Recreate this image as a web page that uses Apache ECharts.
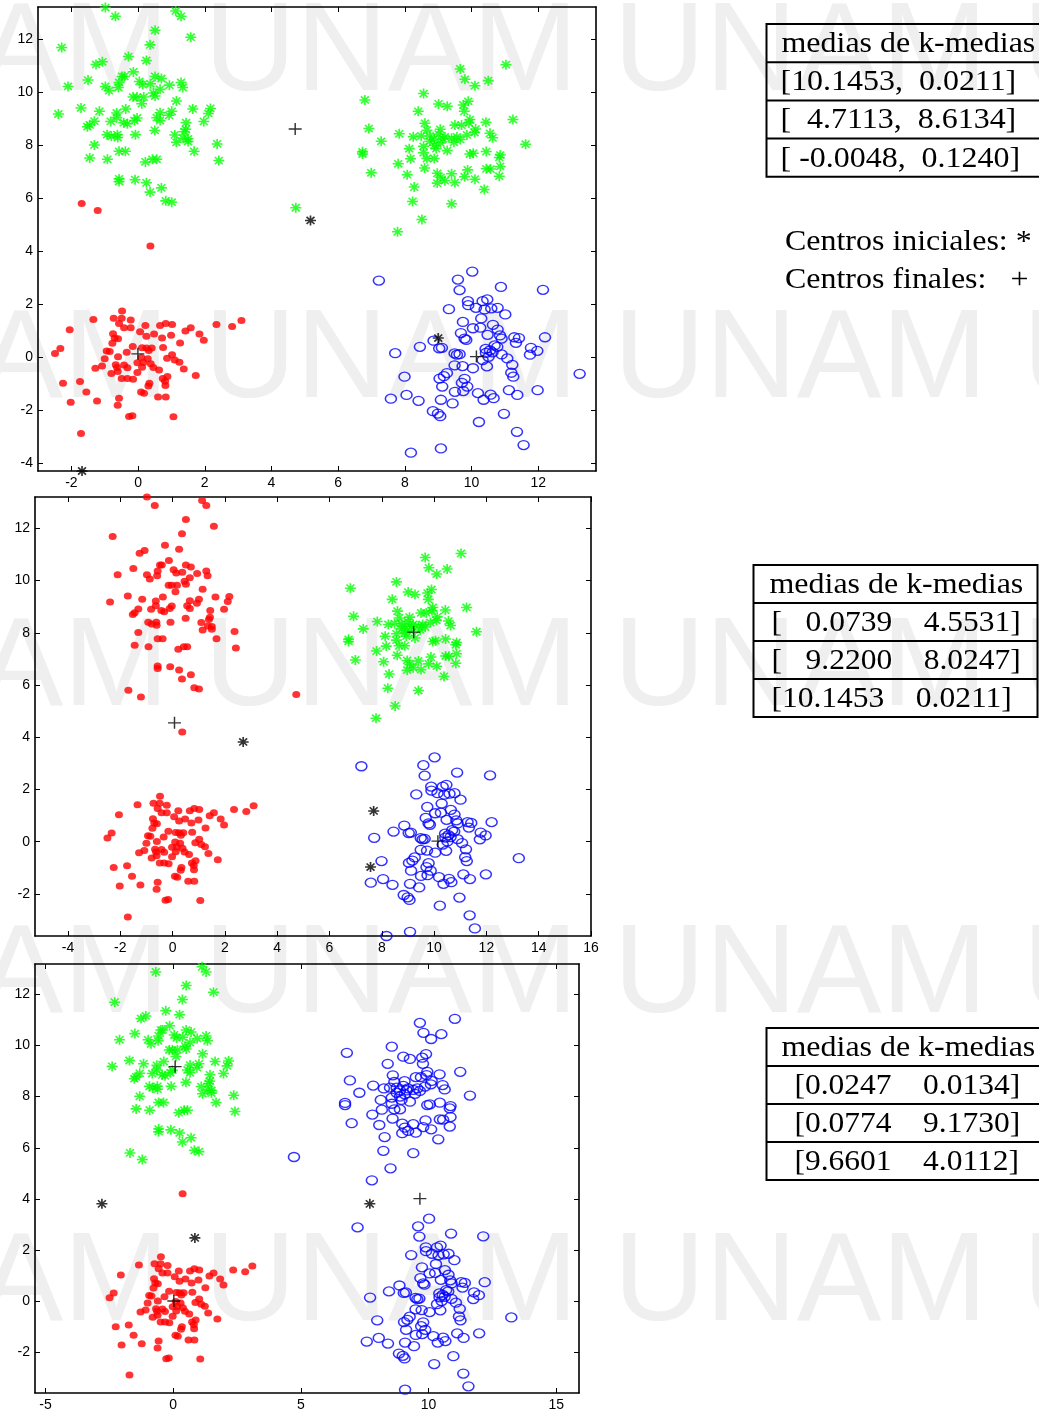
<!DOCTYPE html>
<html>
<head>
<meta charset="utf-8">
<script src="https://cdn.jsdelivr.net/npm/echarts@6/dist/echarts.min.js"></script>
<style>
  html, body { margin: 0; padding: 0; background: #ffffff; }
  #chart { width: 1039px; height: 1416px; }
</style>
</head>
<body>
<div id="chart"></div>
<script>
// ---- sample points (x, y), grouped by where they sit in the plane ----
// upper-left blob around (0, 9)
const upperLeft = [
  [-0.98,13.2],[-0.68,12.87],[1.13,13.07],[1.29,12.87],[0.51,12.34],[1.58,12.08],[-2.29,11.69],[0.36,11.79],
  [-0.29,11.35],[0.25,11.2],[-1.26,11.05],[-1.07,11.15],[-0.14,10.77],[-0.48,10.6],[-0.41,10.6],[0.51,10.6],
  [0.70,10.52],[-1.50,10.46],[0.04,10.41],[0.14,10.29],[0.37,10.32],[1.29,10.37],[0.94,10.27],[-0.57,10.37],
  [-2.10,10.22],[-0.98,10.22],[-0.87,10.06],[-0.59,10.18],[1.34,10.18],[0.66,10.11],[0.46,9.97],[0.51,9.86],
  [-0.15,9.82],[-0.03,9.82],[0.17,9.82],[1.15,9.67],[0.11,9.57],[-1.71,9.41],[-1.16,9.28],[-2.39,9.18],
  [-0.64,9.22],[-0.37,9.37],[0.66,9.23],[1.01,9.28],[0.93,9.13],[1.64,9.37],[2.17,9.39],[2.11,9.20],
  [0.56,9.04],[0.66,8.93],[-0.03,9.03],[-0.11,8.93],[-0.64,9.04],[-0.43,8.85],[-0.32,8.81],[-0.82,8.90],
  [-1.31,8.91],[-1.45,8.77],[-1.52,8.70],[1.44,8.85],[1.97,8.90],[1.43,8.60],[1.39,8.51],[0.50,8.56],
  [-0.93,8.40],[-0.80,8.34],[-0.62,8.40],[-0.61,8.29],[-0.08,8.40],[1.10,8.39],[1.15,8.11],[1.35,8.26],
  [1.50,8.24],[1.50,8.14],[2.37,8.05],[-1.31,8.01],[-0.57,7.77],[-0.38,7.77],[1.68,7.77],[-1.45,7.52],
  [-0.92,7.47],[0.43,7.47],[0.56,7.47],[0.22,7.37],[2.42,7.42],[-0.57,6.73],[-0.57,6.63],[-0.09,6.70],
  [0.25,6.58],[0.70,6.39],[0.36,6.23],[0.83,5.90],[1.01,5.85]
];
// two low points of the upper-left blob
const upperLeftLow = [[-1.69,5.80],[-1.21,5.54]];

// upper-right blob around (9, 8)
const upperRight = [
  [11.03,11.04],[9.66,10.88],[9.80,10.49],[10.50,10.44],[10.10,10.25],[6.80,9.71],[8.56,9.95],[9.01,9.56],
  [9.27,9.47],[9.75,9.52],[9.90,9.66],[8.40,9.28],[9.78,9.28],[9.95,8.97],[9.92,8.84],[10.43,8.87],
  [11.24,8.97],[6.92,8.63],[7.83,8.43],[7.29,8.15],[8.25,8.32],[8.60,8.83],[8.66,8.57],[8.49,8.35],
  [8.75,8.35],[9.06,8.60],[8.88,8.24],[9.14,8.24],[9.40,8.26],[9.50,8.76],[9.56,8.32],[9.86,8.39],
  [10.09,8.48],[10.55,8.45],[10.63,8.28],[11.62,8.04],[6.73,7.75],[6.73,7.67],[8.13,7.87],[8.56,7.96],
  [8.88,8.00],[9.07,8.09],[9.27,7.80],[8.56,7.72],[8.88,7.50],[8.17,7.49],[7.80,7.30],[6.99,6.96],
  [8.07,6.89],[8.59,7.14],[8.97,6.94],[9.07,6.79],[8.97,6.57],[9.20,6.66],[9.50,6.59],[9.40,6.92],
  [9.88,7.07],[9.79,6.81],[10.10,6.72],[9.95,7.67],[10.05,7.70],[10.44,7.76],[10.86,7.63],[10.83,7.54],
  [10.86,7.20],[10.44,7.11],[10.57,7.10],[10.83,6.83],[10.38,6.33],[8.28,6.42],[8.23,5.88],[9.40,5.79],
  [8.51,5.20],[7.78,4.73],[9.70,8.76],[10.12,8.61],[8.75,8.15],[9.01,8.42],[9.20,8.32],[9.47,8.11],
  [9.66,8.22],[8.94,7.87],[8.66,7.50]
];

// lower-left blob around (0, 0)
const lowerLeft = [
  [-0.48,1.74],[-1.34,1.42],[-0.73,1.47],[-0.49,1.47],[-0.22,1.40],[-2.05,1.03],[-0.57,1.27],[-0.42,1.11],
  [-0.22,1.11],[0.22,1.19],[0.66,1.19],[0.83,1.27],[1.02,1.23],[0.06,0.96],[0.25,0.79],[0.48,0.87],
  [0.72,0.72],[0.99,0.83],[1.42,0.99],[1.58,1.11],[1.84,0.87],[1.97,0.64],[2.35,1.23],[2.82,1.16],
  [3.10,1.38],[-0.75,0.88],[-0.70,0.72],[-0.60,0.69],[-0.77,0.52],[-0.16,0.40],[-2.33,0.33],[-2.49,0.14],
  [-0.94,0.23],[-0.85,0.21],[-0.34,0.18],[0.12,0.35],[0.25,0.34],[0.41,0.34],[0.32,0.25],[0.75,0.36],
  [1.26,0.53],[-1.00,-0.06],[-0.60,0.01],[0.10,-0.01],[0.29,-0.06],[0.16,-0.20],[-0.02,-0.21],[1.02,0.09],
  [0.87,-0.04],[1.10,-0.11],[1.24,-0.19],[-1.08,-0.34],[-1.28,-0.42],[-0.67,-0.29],[-0.63,-0.39],[-0.42,-0.30],
  [-0.32,-0.40],[0.12,-0.38],[0.38,-0.25],[0.46,-0.39],[0.63,-0.49],[1.37,-0.45],[-0.80,-0.62],[-0.61,-0.54],
  [-0.02,-0.58],[-0.49,-0.81],[-0.32,-0.81],[-0.15,-0.84],[0.74,-0.81],[0.88,-0.73],[0.81,-0.91],[1.73,-0.69],
  [-2.25,-0.99],[-1.74,-0.92],[0.34,-0.99],[0.31,-1.09],[0.82,-1.07],[-1.55,-1.32],[0.09,-1.32],[0.18,-1.36],
  [-2.02,-1.70],[-1.23,-1.66],[-0.57,-1.55],[-0.61,-1.82],[0.60,-1.51],[0.83,-1.51],[-0.27,-2.24],[-0.17,-2.21],
  [1.06,-2.25],[-1.71,-2.88]
];

// lower-right blob around (10, 0)
const lowerRight = [
  [7.22,2.89],[10.02,3.23],[9.59,2.93],[9.64,2.53],[10.88,2.65],[12.14,2.54],[9.89,2.11],[9.90,1.96],
  [10.33,2.11],[10.47,2.18],[10.13,1.86],[10.39,1.80],[10.59,1.84],[10.78,1.86],[11.01,1.61],[9.32,1.81],
  [10.29,1.46],[9.74,1.33],[10.04,1.09],[10.26,1.11],[10.64,1.22],[10.78,1.04],[9.68,0.91],[9.79,0.70],
  [9.84,0.65],[10.48,0.84],[10.85,0.82],[10.90,0.70],[11.28,0.75],[11.42,0.72],[11.33,0.54],[12.20,0.75],
  [8.86,0.62],[8.45,0.39],[9.11,0.35],[9.03,0.33],[7.71,0.15],[9.49,0.14],[9.56,0.09],[9.64,0.11],
  [10.42,0.31],[10.55,0.25],[10.43,0.16],[10.63,0.18],[10.77,0.39],[10.69,0.44],[10.51,0.01],[10.90,0.10],
  [11.07,-0.05],[11.78,0.35],[11.75,0.09],[11.97,0.24],[10.33,-0.11],[10.46,-0.35],[10.04,-0.42],[9.49,-0.31],
  [9.73,-0.34],[11.22,-0.29],[11.19,-0.59],[11.25,-0.74],[13.24,-0.63],[7.99,-0.74],[9.26,-0.60],[9.17,-0.72],
  [9.04,-0.81],[9.79,-0.82],[9.71,-0.97],[9.12,-1.11],[9.87,-1.11],[9.75,-1.28],[9.50,-1.31],[7.58,-1.57],
  [8.05,-1.43],[8.41,-1.65],[9.08,-1.61],[9.43,-1.75],[10.19,-1.36],[10.36,-1.61],[10.57,-1.42],[10.66,-1.55],
  [11.12,-1.25],[11.37,-1.43],[11.98,-1.25],[8.84,-2.04],[8.99,-2.13],[9.06,-2.23],[10.97,-2.14],[10.22,-2.45],
  [11.36,-2.82],[11.56,-3.32],[8.18,-3.61],[9.08,-3.45]
];

// two isolated points between the blobs
const strayA = [[4.73,5.64]];
const strayB = [[0.37,4.20]];

// ---- starting centres and resulting means of each run ----
const initialRun1 = [[5.17,5.16],[9.00,0.72],[-1.68,-4.30]];
const meansRun1   = [[10.1453,0.0211],[4.7113,8.6134],[-0.0048,0.1240]];
const initialRun2 = [[2.70,3.82],[7.69,1.18],[7.57,-0.97]];
const meansRun2   = [[0.0739,4.5531],[9.2200,8.0247],[10.1453,0.0211]];
const initialRun3 = [[-2.79,3.81],[0.85,2.48],[7.70,3.81]];
const meansRun3   = [[0.0247,0.0134],[0.0774,9.1730],[9.6601,4.0112]];

// ---- axis tick values ----
const ticksX1 = [-2,0,2,4,6,8,10,12];
const ticksY1 = [-4,-2,0,2,4,6,8,10,12];
const ticksX2 = [-4,-2,0,2,4,6,8,10,12,14,16];
const ticksY2 = [-2,0,2,4,6,8,10,12];
const ticksX3 = [-5,0,5,10,15];
const ticksY3 = [-2,0,2,4,6,8,10,12];

// ---- text ----
const tableTitle = 'medias de k-medias';
const legendInitial = 'Centros iniciales: *';
const legendFinal = 'Centros finales:   +';
const watermarkWord = 'UNAM';

// ---------------------------------------------------------------------
const STAR = 'path://M0,-5L0,5M-5,0L5,0M-3.6,-3.6L3.6,3.6M-3.6,3.6L3.6,-3.6';
const PLUS = 'path://M0,-5L0,5M-5,0L5,0';
const GREEN = '#00ff00', RED = '#ff0000', BLUE = '#0000ff';

const panels = [
  { left: 38, top: 7,   width: 558, height: 464, xMin: -3.0,  xMax: 13.73, yMin: -4.3, yMax: 13.22, tx: ticksX1, ty: ticksY1 },
  { left: 35, top: 497, width: 556, height: 439, xMin: -5.26, xMax: 16,    yMin: -3.61, yMax: 13.2, tx: ticksX2, ty: ticksY2 },
  { left: 35, top: 964, width: 544, height: 429, xMin: -5.41, xMax: 15.89, yMin: -3.58, yMax: 13.18, tx: ticksX3, ty: ticksY3 }
];

const labelFont = { color: '#000', fontSize: 14, fontFamily: 'Liberation Sans, Arial, sans-serif' };
const boxLine = { color: '#000', width: 1.6 };

const grid = [], xAxis = [], yAxis = [];
panels.forEach((p, i) => {
  grid.push({ left: p.left, top: p.top, width: p.width, height: p.height, outerBoundsMode: 'none', containLabel: false });
  const tickIn = { show: true, inside: true, length: 5, lineStyle: { color: '#000', width: 1 } };
  xAxis.push({
    type: 'value', gridIndex: i, position: 'bottom', min: p.xMin, max: p.xMax,
    axisLine: { show: true, onZero: false, lineStyle: boxLine },
    axisTick: Object.assign({ customValues: p.tx }, tickIn),
    axisLabel: Object.assign({ customValues: p.tx, margin: 5 }, labelFont),
    splitLine: { show: false }
  });
  xAxis.push({
    type: 'value', gridIndex: i, position: 'top', min: p.xMin, max: p.xMax,
    axisLine: { show: true, onZero: false, lineStyle: boxLine },
    axisTick: Object.assign({ customValues: p.tx }, tickIn),
    axisLabel: { show: false }, splitLine: { show: false }
  });
  yAxis.push({
    type: 'value', gridIndex: i, position: 'left', min: p.yMin, max: p.yMax,
    axisLine: { show: true, onZero: false, lineStyle: boxLine },
    axisTick: Object.assign({ customValues: p.ty }, tickIn),
    axisLabel: Object.assign({ customValues: p.ty, margin: 5 }, labelFont),
    splitLine: { show: false }
  });
  yAxis.push({
    type: 'value', gridIndex: i, position: 'right', min: p.yMin, max: p.yMax,
    axisLine: { show: true, onZero: false, lineStyle: boxLine },
    axisTick: Object.assign({ customValues: p.ty }, tickIn),
    axisLabel: { show: false }, splitLine: { show: false }
  });
});

function base(panel, data) {
  return { type: 'scatter', xAxisIndex: panel * 2, yAxisIndex: panel * 2, data: data,
           silent: true, emphasis: { disabled: true }, animation: false };
}
function stars(panel, data, color) {
  return Object.assign(base(panel, data), { symbol: STAR, symbolSize: [11, 10],
    itemStyle: { color: 'rgba(0,0,0,0)', borderColor: color, borderWidth: 1.6 } });
}
function dots(panel, data) {
  return Object.assign(base(panel, data), { symbol: 'circle', symbolSize: [8, 7],
    itemStyle: { color: RED, borderWidth: 0 } });
}
function rings(panel, data) {
  return Object.assign(base(panel, data), { symbol: 'circle', symbolSize: [11, 9],
    itemStyle: { color: 'rgba(0,0,0,0)', borderColor: BLUE, borderWidth: 1.4 } });
}
function crosses(panel, data) {
  return Object.assign(base(panel, data), { symbol: PLUS, symbolSize: [13, 12], z: 5,
    itemStyle: { color: 'rgba(0,0,0,0)', borderColor: '#000', borderWidth: 1.4 } });
}
function blackStars(panel, data) {
  return Object.assign(stars(panel, data, '#000'), { z: 5 });
}

const series = [
  // run 1
  stars(0, upperLeft.concat(upperRight, strayA), GREEN),
  dots(0, lowerLeft.concat(upperLeftLow, strayB)),
  rings(0, lowerRight),
  blackStars(0, initialRun1),
  crosses(0, meansRun1),
  // run 2
  dots(1, upperLeft.concat(upperLeftLow, lowerLeft, strayA, strayB)),
  stars(1, upperRight, GREEN),
  rings(1, lowerRight),
  blackStars(1, initialRun2),
  crosses(1, meansRun2),
  // run 3
  stars(2, upperLeft.concat(upperLeftLow), GREEN),
  dots(2, lowerLeft.concat(strayB)),
  rings(2, upperRight.concat(lowerRight, strayA)),
  blackStars(2, initialRun3),
  crosses(2, meansRun3)
];

// ---- means tables ----
const f4 = v => v.toFixed(4);
function rowComma(m) { const lead = m[0] >= 10 ? '' : (m[0] < 0 ? ' ' : '  ');
  return '[' + lead + f4(m[0]) + ',  ' + f4(m[1]) + ']'; }
function rowSpaced(m) { const lead = m[0] >= 10 ? '' : '   ';
  return '[' + lead + f4(m[0]) + '    ' + f4(m[1]) + ']'; }
function rowPlain(m) { return '[' + f4(m[0]) + '    ' + f4(m[1]) + ']'; }

const serif = '30px "Liberation Serif", "Times New Roman", serif';
const SX = 1.065;
const graphics = [];

// faint repeated word in the background
const wmRows = [55, 362, 670, 977, 1285];
wmRows.forEach(cy => {
  graphics.push({ type: 'text', x: -205, y: cy, z: -10, silent: true,
    style: { text: [watermarkWord, watermarkWord, watermarkWord, watermarkWord].join(' '),
             font: '127px "Liberation Sans", Arial, sans-serif', fill: '#efefef',
             align: 'left', verticalAlign: 'middle' } });
});

function table(x, y, w, rowH, rows, textX, rowTextX, rowScale) {
  graphics.push({ type: 'rect', z: 10, silent: true, shape: { x: x, y: y, width: w, height: rowH * 4 },
    style: { fill: 'none', stroke: '#000', lineWidth: 2 } });
  for (let k = 1; k < 4; k++) {
    graphics.push({ type: 'line', z: 10, silent: true,
      shape: { x1: x, y1: y + rowH * k, x2: x + w, y2: y + rowH * k },
      style: { stroke: '#000', lineWidth: 2 } });
  }
  graphics.push({ type: 'text', z: 10, silent: true, x: textX, y: y + rowH * 0.5 + 1, scaleX: SX,
    style: { text: tableTitle, font: serif, fill: '#000', align: 'left', verticalAlign: 'middle' } });
  rows.forEach((t, k) => {
    graphics.push({ type: 'text', z: 10, silent: true, x: rowTextX, y: y + rowH * (k + 1.5) + 1, scaleX: rowScale,
      style: { text: t, font: serif, fill: '#000', align: 'left', verticalAlign: 'middle' } });
  });
}
table(766.5, 24, 300, 38.2, meansRun1.map(rowComma), 781.5, 780.5, SX);
table(753.5, 565, 284, 38, meansRun2.map(rowSpaced), 769.5, 771.5, 1.05);
table(766.5, 1028, 300, 38, meansRun3.map(rowPlain), 781.5, 794.5, 1.05);

graphics.push({ type: 'text', z: 10, silent: true, x: 785, y: 242, scaleX: SX,
  style: { text: legendInitial, font: serif, fill: '#000', align: 'left', verticalAlign: 'middle' } });
graphics.push({ type: 'text', z: 10, silent: true, x: 785, y: 280, scaleX: SX,
  style: { text: legendFinal, font: serif, fill: '#000', align: 'left', verticalAlign: 'middle' } });

const chart = echarts.init(document.getElementById('chart'), null, { renderer: 'canvas' });
chart.setOption({
  backgroundColor: '#ffffff',
  animation: false,
  grid: grid,
  xAxis: xAxis,
  yAxis: yAxis,
  series: series,
  graphic: { elements: graphics }
});
</script>
</body>
</html>
